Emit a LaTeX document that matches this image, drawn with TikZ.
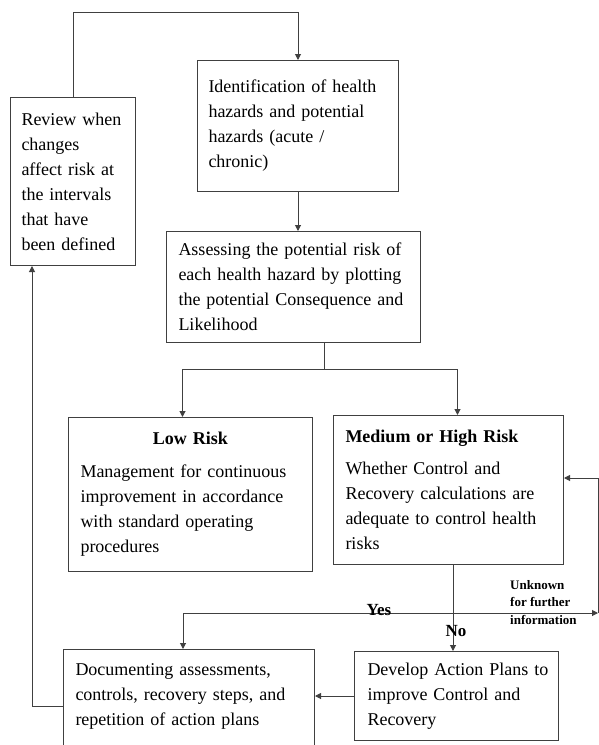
\documentclass[tikz,border=0pt]{standalone}
\usepackage{fontspec}
\setmainfont{Liberation Serif}
\usepackage{tikz}
\usetikzlibrary{arrows.meta, positioning, calc}

\tikzset{
    box/.style={draw=black!75, line width=1pt, anchor=north west, align=left,
        inner xsep=12pt, font=\fontsize{18}{25}\selectfont},
    link/.style={draw=black!75, line width=1pt},
    arr/.style={link, -{Triangle[length=6pt,width=6pt]}},
    lbl/.style={inner sep=0pt, font=\bfseries\fontsize{17}{20}\selectfont},
    note/.style={inner sep=0pt, anchor=north west, align=left,
        font=\bfseries\fontsize{13}{17.5}\selectfont},
}

\begin{document}
\begin{tikzpicture}[x=1pt, y=-1pt]
    % page frame (pixels of the reference)
    \clip (0,0) rectangle (599,745);

    % Boxes
    \node[box, inner xsep=11pt, text width=103pt, minimum height=168pt] (review) at (10,97)
        {Review when\\changes\\affect risk at\\the intervals\\that have\\been defined};
    \node[box, inner xsep=11pt, text width=179pt, minimum height=131pt] (ident) at (197,60)
        {Identification of health\\hazards and potential\\hazards (acute /\\chronic)};
    \node[box, text width=230pt, minimum height=111pt] (assess) at (166,231)
        {\makebox[230pt][s]{Assessing the potential risk of}\\
         \makebox[230pt][s]{each health hazard by plotting}\\
         \makebox[230pt][s]{the potential Consequence and}\\
         Likelihood};
    \node[box, text width=220pt, minimum height=154pt] (low) at (68,417)
        {\makebox[220pt][c]{\textbf{Low Risk}}\\[8pt]
         Management for continuous\\improvement in accordance\\with standard operating\\procedures};
    \node[box, text width=206pt, minimum height=149pt] (med) at (333,415)
        {\textbf{Medium or High Risk}\\[7pt]
         Whether Control and\\Recovery calculations are\\adequate to control health\\risks};
    \node[box, inner xsep=13pt, text width=178pt, minimum height=89pt] (develop) at (354,651)
        {\mbox{Develop Action Plans to}\\improve Control and\\Recovery};
    \node[box, inner ysep=14pt, text width=227pt, text depth=85pt] (docs) at (63,649)
        {Documenting assessments,\\controls, recovery steps, and\\repetition of action plans};

    % Junction points
    \coordinate (toploop) at (0,12);
    \coordinate (split) at (324,369);
    \coordinate (dec) at (453,613);
    \coordinate (loopR) at (598,613);
    \coordinate (loopL) at (32,0);

    % Main flow
    \draw[arr] (review.north) |- (toploop -| ident.north) -- (ident.north);
    \draw[arr] (ident.south) -- (ident.south |- assess.north);
    \draw[link] (assess.south -| split) -- (split);
    \draw[arr] (split) -| ([xshift=-8pt]low.north);
    \draw[arr] (split) -| ([xshift=9pt]med.north);

    % Decision
    \draw[link] (med.south -| dec) -- (dec);
    \draw[arr] (dec) -- (dec |- develop.north);
    \draw[arr] (dec) -| ([xshift=-6pt]docs.north);
    \draw[arr] (dec) -- (loopR);
    \draw[arr] (loopR) |- ([yshift=12pt]med.east);
    \draw[arr] (develop.west) -- (develop.west -| docs.east);
    \draw[arr] ([yshift=5pt]docs.west) -| (loopL |- review.south);

    % Labels
    \node[lbl, anchor=base] (yes) at (379,615) {Yes};
    \node[lbl, anchor=base] (no) at (456,636) {No};
    \node[note] (unknown) at (510,580) {Unknown\\for further\\information};
\end{tikzpicture}
\end{document}
